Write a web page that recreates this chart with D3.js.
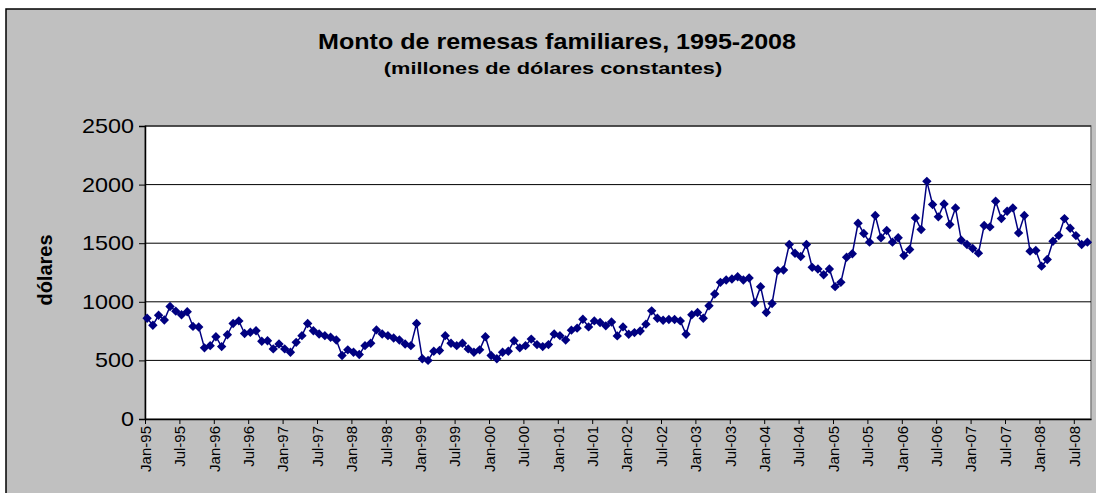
<!DOCTYPE html>
<html>
<head>
<meta charset="utf-8">
<script src="https://cdn.jsdelivr.net/npm/d3@7/dist/d3.min.js"></script>
<style>
  body { margin: 0; background: #fff; }
  text { font-family: "Liberation Sans", Arial, sans-serif; }
</style>
</head>
<body>
<script>
// monthly remittances, Jan-95 .. Sep-08 (millions of constant dollars)
const remesas = [
  860, 800, 885, 845, 960, 920, 890, 915, 790, 785, 607, 626,
  702, 618, 719, 815, 837, 730, 740, 753, 663, 668, 598, 640,
  598, 570, 654, 711, 815, 753, 725, 711, 697, 674, 542, 590,
  570, 550, 626, 646, 760, 725, 711, 691, 674, 640, 626, 815,
  514, 500, 578, 584, 711, 646, 626, 646, 598, 570, 590, 702,
  542, 514, 570, 578, 668, 607, 626, 682, 635, 618, 635, 725,
  711, 674, 758, 775, 851, 786, 837, 823, 795, 828, 709, 786,
  723, 737, 751, 809, 923, 860, 843, 849, 849, 837, 723, 889,
  909, 860, 966, 1066, 1166, 1186, 1194, 1214, 1186, 1203, 991, 1129,
  909, 986, 1266, 1271, 1489, 1414, 1386, 1489, 1294, 1280, 1231, 1280,
  1129, 1166, 1380, 1410, 1670, 1583, 1509, 1736, 1546, 1608, 1509, 1546,
  1395, 1446, 1716, 1617, 2028, 1830, 1725, 1835, 1659, 1801, 1526, 1489,
  1455, 1415, 1651, 1639, 1858, 1710, 1773, 1801, 1588, 1736, 1432, 1438,
  1304, 1361, 1517, 1565, 1710, 1628, 1565, 1489, 1509
];

const xTickLabels = ["Jan-95","Jul-95","Jan-96","Jul-96","Jan-97","Jul-97","Jan-98","Jul-98",
  "Jan-99","Jul-99","Jan-00","Jul-00","Jan-01","Jul-01","Jan-02","Jul-02","Jan-03","Jul-03",
  "Jan-04","Jul-04","Jan-05","Jul-05","Jan-06","Jul-06","Jan-07","Jul-07","Jan-08","Jul-08"];
const yTicks = [0, 500, 1000, 1500, 2000, 2500];

const W = 1096, H = 493;
const margin = {top: 126, right: 5, bottom: 74, left: 145};
const width = W - margin.left - margin.right;
const height = H - margin.top - margin.bottom;

const svg = d3.select("body").append("svg")
    .attr("width", W)
    .attr("height", H);

// chart area
svg.append("rect")
   .attr("x", 6).attr("y", 9)
   .attr("width", W + 10).attr("height", H + 10)
   .attr("fill", "#c0c0c0")
   .attr("stroke", "#000")
   .attr("stroke-width", 1.5);

// the original picture is stretched sideways, so the titles are too
svg.append("text")
   .attr("transform", "translate(557,49) scale(1.14,1)")
   .attr("text-anchor", "middle")
   .attr("font-size", 22).attr("font-weight", "bold")
   .text("Monto de remesas familiares, 1995-2008");

svg.append("text")
   .attr("transform", "translate(553,74) scale(1.28,1)")
   .attr("text-anchor", "middle")
   .attr("font-size", 17).attr("font-weight", "bold")
   .text("(millones de dólares constantes)");

const g = svg.append("g")
    .attr("transform", "translate(" + margin.left + "," + margin.top + ")");

g.append("rect")
 .attr("width", width).attr("height", height)
 .attr("fill", "#fff")
 .attr("stroke", "#808080")
 .attr("stroke-width", 1.5);

let x = d3.scaleLinear()
          .domain([0, 165])
          .range([0, width]);

let y = d3.scaleLinear()
          .domain([0, 2500])
          .range([height, 0]);

// gridlines
g.append("g")
 .selectAll("line")
 .data(yTicks.filter(d => d > 0))
 .enter().append("line")
 .attr("x1", 0).attr("x2", width)
 .attr("y1", d => y(d)).attr("y2", d => y(d))
 .attr("stroke", "#000")
 .attr("stroke-width", 1);

let yAxis = d3.axisLeft(y)
              .tickValues(yTicks)
              .tickFormat(d3.format("d"))
              .tickSize(6)
              .tickPadding(0);

let yg = g.append("g")
          .attr("class", "y axis")
          .call(yAxis);
yg.selectAll("text")
  .attr("font-size", 20)
  .attr("fill", "#000")
  .attr("x", null)
  .attr("transform", "translate(-11,0) scale(1.17,1)");
yg.select(".domain").attr("stroke-width", 1.5);

let xAxis = d3.axisBottom(x)
              .tickValues(d3.range(0, 163, 6))
              .tickFormat((d, i) => xTickLabels[i])
              .tickSize(5)
              .tickSizeOuter(0);

let xg = g.append("g")
          .attr("class", "x axis")
          .attr("transform", "translate(0," + height + ")")
          .call(xAxis);
xg.select(".domain").attr("stroke-width", 1.5);
xg.selectAll("text")
  .attr("font-size", 15)
  .attr("fill", "#000")
  .attr("text-anchor", "end")
  .attr("transform", "rotate(-90)")
  .attr("x", -7)
  .attr("y", 0)
  .attr("dy", "0.35em");

svg.append("text")
   .attr("transform", "translate(52,270) rotate(-90)")
   .attr("text-anchor", "middle")
   .attr("font-size", 20).attr("font-weight", "bold")
   .text("dólares");

// points sit a little right of their month tick
const pointOffset = 0.37;

let line = d3.line()
             .x((d, i) => x(i + pointOffset))
             .y(d => y(d));

g.append("path")
 .datum(remesas)
 .attr("d", line)
 .attr("fill", "none")
 .attr("stroke", "#000080")
 .attr("stroke-width", 1.5);

let diamond = d3.symbol().type(d3.symbolSquare).size(44);

g.selectAll("path.dot")
 .data(remesas).enter()
 .append("path")
 .attr("class", "dot")
 .attr("d", diamond)
 .attr("transform", (d, i) => "translate(" + x(i + pointOffset) + "," + y(d) + ") rotate(45)")
 .attr("fill", "#000080");
</script>
</body>
</html>
